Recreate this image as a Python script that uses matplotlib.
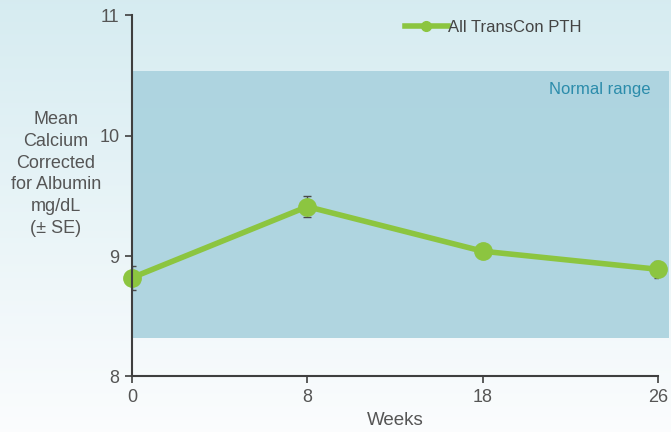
import numpy as np
import matplotlib
matplotlib.use("Agg")
import matplotlib.pyplot as plt
from matplotlib.lines import Line2D
from matplotlib.patches import Rectangle

plt.rcParams['font.family'] = ['Liberation Sans', 'DejaVu Sans']

weeks = ["0", "8", "18", "26"]
calcium_mean = [8.82, 9.41, 9.04, 8.89]
calcium_se = [0.10, 0.09, 0.06, 0.07]
normal_low, normal_high = 8.32, 10.54
series_label = "All TransCon PTH"

green = "#8cc540"
axis_grey = "#3f3f3f"
text_grey = "#555555"

fig = plt.figure(figsize=(6.71, 4.32), dpi=100)

# soft vertical background gradient (light blue at top fading to white)
bg = fig.add_axes([0, 0, 1, 1], zorder=-10)
grad = np.linspace(0, 1, 256).reshape(-1, 1)
top = np.array([0.84, 0.925, 0.945])
bot = np.array([0.985, 0.99, 0.995])
img = top[None, None, :] * (1 - grad[:, :, None]) + bot[None, None, :] * grad[:, :, None]
bg.imshow(img, aspect="auto", extent=[0, 1, 0, 1], origin="upper")
bg.axis("off")

ax = fig.add_axes([0.1967, 0.1285, 0.7839, 0.8365])
ax.patch.set_alpha(0)
x = np.arange(len(weeks))

ax.set_xlim(0, len(weeks) - 1)
ax.set_ylim(8, 11)

# normal range band, extending slightly past the last tick
band = Rectangle((0, normal_low), (len(weeks) - 1) * 1.02, normal_high - normal_low,
                 facecolor="#a9d2de", edgecolor="none", alpha=0.9, clip_on=False, zorder=1)
ax.add_patch(band)
ax.text((len(weeks) - 1) * 0.985, normal_high - 0.16, "Normal range", color="#2b8cab",
        fontsize=12, ha="right", va="center", zorder=2)

ax.errorbar(x, calcium_mean, yerr=calcium_se, fmt="none", ecolor="#4a4a4a",
            elinewidth=1.0, capsize=3, capthick=1.0, zorder=3)
ax.plot(x, calcium_mean, color=green, lw=4, marker="o", ms=12.5,
        markerfacecolor=green, markeredgecolor=green, zorder=4, clip_on=False)

ax.set_xticks(x)
ax.set_xticklabels(weeks)
ax.set_yticks([8, 9, 10, 11])
ax.set_yticklabels(["8", "9", "10", "11"])
for s in ["top", "right"]:
    ax.spines[s].set_visible(False)
for s in ["left", "bottom"]:
    ax.spines[s].set_color(axis_grey)
    ax.spines[s].set_linewidth(1.5)
    ax.spines[s].set_zorder(5)
ax.tick_params(axis="both", direction="out", length=5, width=1.2, color=axis_grey,
               labelcolor=text_grey, labelsize=13, pad=4)

ax.set_xlabel("Weeks", fontsize=13.5, color=text_grey, labelpad=4)
fig.text(0.083, 0.597, "Mean\nCalcium\nCorrected\nfor Albumin\nmg/dL\n(± SE)",
         ha="center", va="center", fontsize=13, color=text_grey, linespacing=1.36)

handle = Line2D([], [], color=green, lw=4, marker="o", ms=7,
                markerfacecolor=green, markeredgecolor=green)
ax.legend([handle], [series_label], loc="upper left", bbox_to_anchor=(0.49, 1.028),
          frameon=False, fontsize=12, handlelength=2.6, handletextpad=0.0,
          labelcolor="#444444")

fig.savefig("out.png", dpi=100)
